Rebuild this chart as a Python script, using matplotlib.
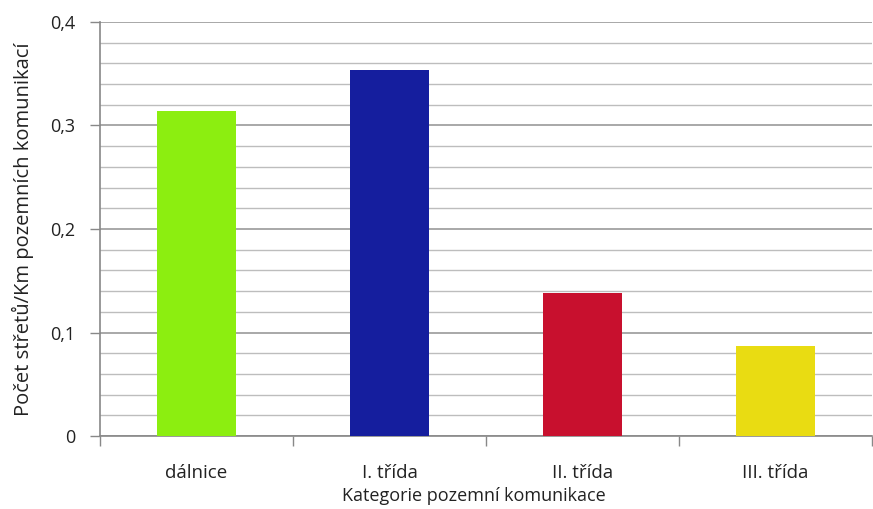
import matplotlib
matplotlib.use("Agg")
import matplotlib.pyplot as plt
from matplotlib.ticker import MultipleLocator, FuncFormatter
import numpy as np

# accidents per km of road, by road category
categories = ["dálnice", "I. třída", "II. třída", "III. třída"]
values = [0.314, 0.354, 0.138, 0.087]
colors = ["#8cee10", "#151e9e", "#c8102e", "#e9dc12"]

plt.rcParams["font.family"] = ["Open Sans", "DejaVu Sans"]

fig = plt.figure(figsize=(8.73, 5.09), dpi=100)
ax = fig.add_axes([0.1145, 0.1434, 0.8845, 0.8134])

x = np.arange(len(categories))
ax.bar(x, values, width=0.41, color=colors, zorder=3)

ax.set_xlim(-0.5, len(categories) - 0.5)
ax.set_ylim(0, 0.4)

# major/minor gridlines
ax.yaxis.set_major_locator(MultipleLocator(0.1))
ax.yaxis.set_minor_locator(MultipleLocator(0.02))
ax.yaxis.set_major_formatter(FuncFormatter(
    lambda v, pos: "0" if abs(v) < 1e-9 else ("%.1f" % v).replace(".", ",")))
ax.grid(which="major", axis="y", color="#9a9a9a", linewidth=1.2, zorder=0)
ax.grid(which="minor", axis="y", color="#bdbdbd", linewidth=1.0, zorder=0)
ax.tick_params(axis="y", which="major", length=7, width=1, color="#888888",
               labelsize=13, pad=11, labelcolor="#222222")
ax.tick_params(axis="y", which="minor", length=0)

# category labels centred, tick marks between categories
ax.set_xticks(x)
ax.set_xticklabels(categories)
ax.set_xticks(np.arange(len(categories) + 1) - 0.5, minor=True)
ax.tick_params(axis="x", which="major", length=0, labelsize=13.5, pad=20,
               labelcolor="#222222")
ax.tick_params(axis="x", which="minor", length=7, width=1, color="#888888")

for s in ["top", "right"]:
    ax.spines[s].set_visible(False)
for s in ["left", "bottom"]:
    ax.spines[s].set_color("#888888")
    ax.spines[s].set_linewidth(1.2)

ax.set_ylabel("Počet střetů/Km pozemních komunikací", fontsize=14.5,
              color="#222222")
ax.yaxis.set_label_coords(-0.086, 0.5)
ax.set_xlabel("Kategorie pozemní komunikace", fontsize=13, color="#222222")
ax.xaxis.set_label_coords(0.484, -0.122)

fig.savefig("out.png", dpi=100)
